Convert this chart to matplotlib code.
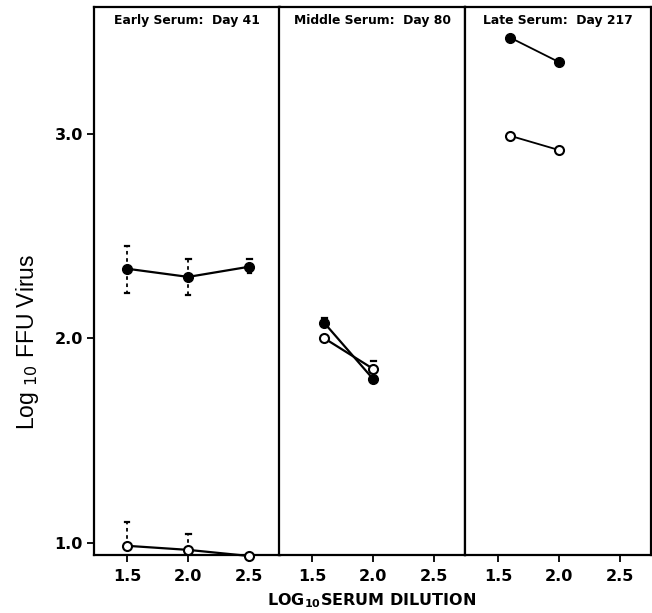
import matplotlib.pyplot as plt
import numpy as np

plt.rcParams['font.family'] = ['Liberation Sans', 'DejaVu Sans']

# data
titles = ['Early Serum:  Day 41', 'Middle Serum:  Day 80', 'Late Serum:  Day 217']

early_x = [1.5, 2.0, 2.5]
early_filled = [2.34, 2.30, 2.35]
early_filled_hi = [2.45, 2.39, 2.39]
early_filled_lo = [2.22, 2.21, 2.32]
early_open = [0.985, 0.965, 0.935]
early_open_hi = [1.10, 1.045, None]

mid_x = [1.6, 2.0]
mid_filled = [2.075, 1.80]
mid_open = [2.0, 1.85]
mid_filled_hi = [2.10, None]
mid_open_hi = [None, 1.89]

late_x = [1.6, 2.0]
late_filled = [3.47, 3.35]
late_open = [2.99, 2.92]

bold_font = 'DejaVu Sans'

fig = plt.figure(figsize=(6.52, 6.13), dpi=100)
W, H = 652, 613
lefts = [94, 279, 465]
width = 186
bottom, top = 555, 7
axes = []
for i, l in enumerate(lefts):
    ax = fig.add_axes([l / W, 1 - bottom / H, width / W, (bottom - top) / H])
    ax.set_xlim(1.23, 2.75)
    ax.set_ylim(0.94, 3.62)
    ax.set_xticks([1.5, 2.0, 2.5])
    ax.set_xticklabels(['1.5', '2.0', '2.5'], fontweight='bold', fontsize=11.5, family=bold_font)
    ax.tick_params(axis='x', direction='out', length=5, width=1.3, pad=5)
    if i == 0:
        ax.set_yticks([1.0, 2.0, 3.0])
        ax.set_yticklabels(['1.0', '2.0', '3.0'], fontweight='bold', fontsize=11.5, family=bold_font)
        ax.tick_params(axis='y', direction='out', length=5, width=1.3, pad=3)
    else:
        ax.set_yticks([])
    for s in ax.spines.values():
        s.set_linewidth(1.6)
    ax.text(0.5, 0.988, titles[i], transform=ax.transAxes, ha='center', va='top',
            fontsize=8.9, fontweight='bold', family=bold_font)
    axes.append(ax)

def errbar(ax, x, y, hi, lo=None):
    for xi, yi, h in zip(x, y, hi):
        if h is not None:
            ax.plot([xi, xi], [yi, h], color='black', lw=1.3, ls=(0, (2, 2)), zorder=1)
            ax.plot([xi - 0.02, xi + 0.02], [h, h], color='black', lw=1.6, zorder=1)
    if lo is not None:
        for xi, yi, l in zip(x, y, lo):
            ax.plot([xi, xi], [yi, l], color='black', lw=1.3, ls=(0, (2, 2)), zorder=1)
            ax.plot([xi - 0.015, xi + 0.015], [l, l], color='black', lw=1.6, zorder=1)

ax = axes[0]
errbar(ax, early_x, early_filled, early_filled_hi, early_filled_lo)
errbar(ax, early_x, early_open, early_open_hi)
ax.plot(early_x, early_filled, 'o-', color='black', mfc='black', ms=7, lw=1.6, zorder=3)
ax.plot(early_x, early_open, 'o-', color='black', mfc='white', ms=6.5, mew=1.5, lw=1.6,
        zorder=3, clip_on=False)

ax = axes[1]
errbar(ax, mid_x, mid_filled, mid_filled_hi)
errbar(ax, mid_x, mid_open, mid_open_hi)
ax.plot(mid_x, mid_filled, 'o-', color='black', mfc='black', ms=7, lw=1.6, zorder=3)
ax.plot(mid_x, mid_open, 'o-', color='black', mfc='white', ms=6.5, mew=1.5, lw=1.6, zorder=3)

ax = axes[2]
ax.plot(late_x, late_filled, 'o-', color='black', mfc='black', ms=7, lw=1.3, zorder=3)
ax.plot(late_x, late_open, 'o-', color='black', mfc='white', ms=6.5, mew=1.5, lw=1.3, zorder=3)

fig.text(28 / W, 1 - 342 / H, 'Log $_{10}$ FFU Virus', rotation=90, ha='center', va='center',
         fontsize=16.5)
fig.text(372 / W, 1 - 601 / H, 'LOG$_{\\mathbf{10}}$SERUM DILUTION', ha='center', va='center',
         fontsize=11.5, fontweight='bold', family=bold_font)

fig.savefig('out.png', dpi=100)
